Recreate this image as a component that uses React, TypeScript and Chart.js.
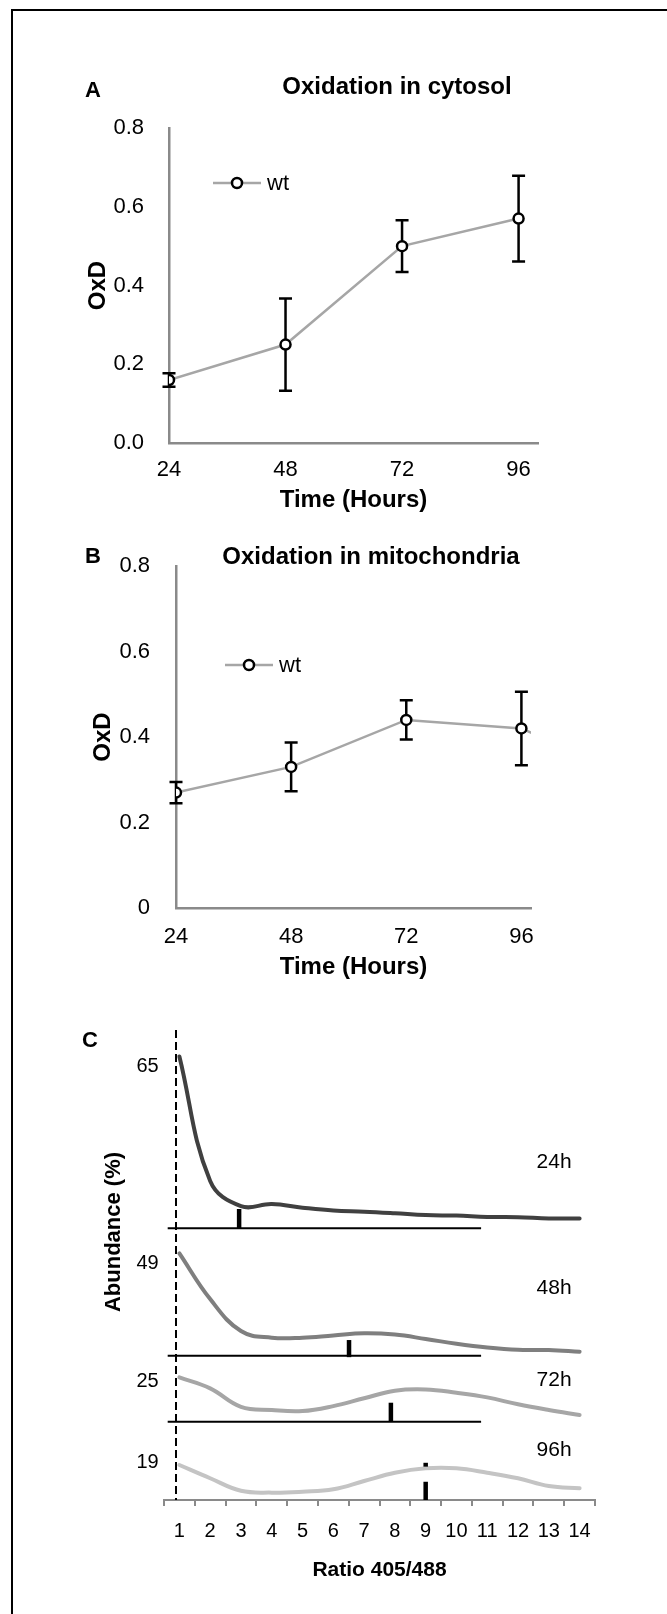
import React, { useEffect, useRef } from "react";
import { Chart, registerables } from "chart.js";

Chart.register(...registerables);

const FONT = '"Liberation Sans", Arial, Helvetica, sans-serif';
const AXIS_GREY = "#8a8a8a";
const LINE_GREY = "#a6a6a6";

// ---------- Panel A / B data ----------
const hours = [24, 48, 72, 96];
const hourTicks = [24, 48, 72, 96];
const oxdTicks = [0, 0.2, 0.4, 0.6, 0.8];

const cytosolOxD = [0.16, 0.25, 0.5, 0.57];
const cytosolErr = [0.017, 0.117, 0.066, 0.109];

const mitoOxD = [0.27, 0.33, 0.44, 0.42];
const mitoErr = [0.025, 0.057, 0.046, 0.086];
const mitoTailHour = 120;
const mitoTailOxD = 0.3;

// ---------- Panel C data ----------
const ratioBins = [1, 2, 3, 4, 5, 6, 7, 8, 9, 10, 11, 12, 13, 14];
const timeLabels = ["24h", "48h", "72h", "96h"];
const abundance24h = [65, 17.9, 8.4, 9.2, 7.8, 6.7, 6.3, 5.7, 5.0, 4.8, 4.3, 4.2, 3.7, 3.7];
const abundance48h = [49, 27.1, 11.8, 8.6, 8.6, 9.7, 10.7, 10.1, 8.0, 5.7, 3.9, 2.8, 2.7, 1.9];
const abundance72h = [25, 18.8, 8.4, 6.6, 6.0, 8.8, 13.2, 17.5, 18.2, 16.3, 13.7, 9.8, 6.6, 3.8];
const abundance96h = [19, 11.8, 5.0, 4.0, 4.5, 5.8, 10.3, 14.8, 17.2, 17.2, 14.8, 11.8, 7.6, 6.4];
const peakLabels = [65, 49, 25, 19];
const medianRatio = [2.94, 6.51, 7.87, 9.0];
const medianSegments = [
  [[0, 7.3]],
  [[-0.7, 7.5]],
  [[0, 10.7]],
  [[0, 9.9], [18.1, 20.2]],
];
const baselineRange = [0.62, 10.8];
const dashedRatio = 0.89;
const timeLabelRatio = 13.17;
const timeLabelHeights = [25, 32.4, 23.5, 27.1];

const curves = [abundance24h, abundance48h, abundance72h, abundance96h];
const curveColors = ["#404040", "#7f7f7f", "#a6a6a6", "#c4c4c4"];
const bandIds = ["y24", "y48", "y72", "y96"];
const bandMax = [75, 61, 37.2, 42.5];
const bandWeight = [198.3, 127.4, 66, 78.3];
const bandLabelOffset = [10.3, 10, 4.4, -2.7];

// ---------- plugins ----------
function errorBarPlugin(xs: number[], ys: number[], errs: number[]) {
  return {
    id: "errorBars",
    beforeDatasetsDraw(chart: any) {
      const { ctx } = chart;
      const sx = chart.scales.x;
      const sy = chart.scales.y;
      ctx.save();
      ctx.strokeStyle = "#000";
      ctx.lineWidth = 2.5;
      xs.forEach((h, i) => {
        const x = sx.getPixelForValue(h);
        const y1 = sy.getPixelForValue(ys[i] + errs[i]);
        const y2 = sy.getPixelForValue(ys[i] - errs[i]);
        ctx.beginPath();
        ctx.moveTo(x, y1);
        ctx.lineTo(x, y2);
        ctx.moveTo(x - 6.5, y1);
        ctx.lineTo(x + 6.5, y1);
        ctx.moveTo(x - 6.5, y2);
        ctx.lineTo(x + 6.5, y2);
        ctx.stroke();
      });
      ctx.restore();
    },
  };
}

function legendPlugin(dx: number, dy: number) {
  return {
    id: "wtLegend",
    afterDatasetsDraw(chart: any) {
      const { ctx, chartArea } = chart;
      const ds = chart.data.datasets[0];
      const cx = chartArea.left + dx;
      const cy = chartArea.top + dy;
      ctx.save();
      ctx.strokeStyle = ds.borderColor;
      ctx.lineWidth = ds.borderWidth;
      ctx.beginPath();
      ctx.moveTo(cx - 24, cy);
      ctx.lineTo(cx + 24, cy);
      ctx.stroke();
      ctx.beginPath();
      ctx.arc(cx, cy, 5, 0, Math.PI * 2);
      ctx.fillStyle = ds.pointBackgroundColor;
      ctx.fill();
      ctx.strokeStyle = ds.pointBorderColor;
      ctx.lineWidth = ds.pointBorderWidth;
      ctx.stroke();
      ctx.fillStyle = "#000";
      ctx.font = `22px ${FONT}`;
      ctx.textBaseline = "middle";
      ctx.textAlign = "left";
      ctx.fillText(ds.label, cx + 30, cy + 1);
      ctx.restore();
    },
  };
}

const panelCPlugin = {
  id: "panelC",
  beforeDatasetsDraw(chart: any) {
    const { ctx, chartArea } = chart;
    const x = chart.scales.x.getPixelForValue(dashedRatio);
    ctx.save();
    ctx.strokeStyle = "#000";
    ctx.lineWidth = 2;
    ctx.setLineDash([8, 4]);
    ctx.beginPath();
    ctx.moveTo(x, chartArea.top);
    ctx.lineTo(x, chartArea.bottom);
    ctx.stroke();
    ctx.restore();
  },
  afterDatasetsDraw(chart: any) {
    const { ctx } = chart;
    const x = chart.scales.x.getPixelForValue(timeLabelRatio);
    ctx.save();
    ctx.fillStyle = "#000";
    ctx.font = `21px ${FONT}`;
    ctx.textAlign = "center";
    ctx.textBaseline = "middle";
    bandIds.forEach((id, i) => {
      const y = chart.scales[id].getPixelForValue(timeLabelHeights[i]);
      ctx.fillText(timeLabels[i], x, y);
    });
    ctx.restore();
  },
};

// ---------- configs ----------
function oxdConfig(opts: any) {
  const data = opts.values.map((v: number, i: number) => ({ x: hours[i], y: v }));
  if (opts.tail) data.push({ x: opts.tail[0], y: opts.tail[1] });
  return {
    type: "line",
    data: {
      datasets: [
        {
          label: "wt",
          data,
          borderColor: LINE_GREY,
          borderWidth: 2.5,
          pointRadius: (ctx: any) => (ctx.dataIndex < hours.length ? 5 : 0),
          pointBackgroundColor: "#fff",
          pointBorderColor: "#000",
          pointBorderWidth: 2.5,
          tension: 0,
        },
      ],
    },
    options: {
      responsive: false,
      animation: false,
      devicePixelRatio: 1,
      layout: { padding: { left: 0, top: opts.top, right: opts.right, bottom: 0 } },
      plugins: { legend: { display: false }, tooltip: { enabled: false }, title: { display: false } },
      scales: {
        x: {
          type: "linear",
          min: 24,
          max: opts.xMax,
          afterBuildTicks: (s: any) => {
            s.ticks = hourTicks.map((v) => ({ value: v }));
          },
          afterFit: (s: any) => {
            s.height = opts.xHeight;
          },
          grid: { display: false },
          border: { display: true, color: AXIS_GREY, width: 2.5 },
          ticks: { color: "#000", font: { family: FONT, size: 22 }, padding: opts.xTickPad, maxRotation: 0 },
          title: {
            display: true,
            text: "Time (Hours)",
            color: "#000",
            font: { family: FONT, size: 24, weight: "bold" },
            padding: { top: 0, bottom: opts.xTitlePad },
          },
        },
        y: {
          type: "linear",
          min: 0,
          max: 0.8,
          afterBuildTicks: (s: any) => {
            s.ticks = oxdTicks.map((v) => ({ value: v }));
          },
          afterFit: (s: any) => {
            s.width = opts.yWidth;
          },
          grid: { display: false },
          border: { display: true, color: AXIS_GREY, width: 2.5 },
          ticks: {
            color: "#000",
            font: { family: FONT, size: 22 },
            padding: opts.yTickPad,
            callback: opts.tickFmt,
          },
          title: {
            display: true,
            text: "OxD",
            color: "#000",
            font: { family: FONT, size: 24, weight: "bold" },
            padding: { top: opts.yTitlePad, bottom: 0 },
          },
        },
      },
    },
    plugins: [errorBarPlugin(hours, opts.values, opts.errs), legendPlugin(opts.legend[0], opts.legend[1])],
  };
}

function makeA() {
  return oxdConfig({
    values: cytosolOxD,
    errs: cytosolErr,
    xMax: 100,
    top: 128,
    right: 129,
    xHeight: 77,
    xTickPad: 6,
    xTitlePad: 5.6,
    yWidth: 169,
    yTickPad: 17,
    yTitlePad: 83.6,
    tickFmt: (v: number) => Number(v).toFixed(1),
    legend: [68, 55],
  });
}

function makeB() {
  return oxdConfig({
    values: mitoOxD,
    errs: mitoErr,
    tail: [mitoTailHour, mitoTailOxD],
    xMax: 98,
    top: 46,
    right: 136,
    xHeight: 82,
    xTickPad: 7.5,
    xTitlePad: 8.6,
    yWidth: 176,
    yTickPad: 18,
    yTitlePad: 88.6,
    tickFmt: (v: number) => String(Number(v.toFixed(1))),
    legend: [73, 99],
  });
}

function bandScale(i: number) {
  return {
    type: "linear",
    position: "left",
    stack: "abundance",
    stackWeight: bandWeight[i],
    weight: 4 - i,
    min: 0,
    max: bandMax[i],
    afterBuildTicks: (s: any) => {
      s.ticks = [{ value: peakLabels[i] }];
    },
    afterFit: (s: any) => {
      s.width = 164;
    },
    grid: { display: false },
    border: { display: false },
    ticks: {
      color: "#000",
      font: { family: FONT, size: 20 },
      padding: -2.7,
      labelOffset: bandLabelOffset[i],
    },
  };
}

function makeC() {
  const datasets: any[] = [];
  medianRatio.forEach((r, i) => {
    medianSegments[i].forEach((seg) => {
      datasets.push({
        data: [
          { x: r, y: seg[0] },
          { x: r, y: seg[1] },
        ],
        yAxisID: bandIds[i],
        borderColor: "#000",
        borderWidth: 4.5,
        borderCapStyle: "butt",
        pointRadius: 0,
        clip: false,
      });
    });
  });
  for (let i = 0; i < 3; i++) {
    datasets.push({
      data: [
        { x: baselineRange[0], y: 0 },
        { x: baselineRange[1], y: 0 },
      ],
      yAxisID: bandIds[i],
      borderColor: "#000",
      borderWidth: 2,
      pointRadius: 0,
      clip: false,
    });
  }
  curves.forEach((c, i) => {
    datasets.push({
      label: timeLabels[i],
      data: c.map((v, j) => ({ x: ratioBins[j], y: v })),
      yAxisID: bandIds[i],
      borderColor: curveColors[i],
      borderWidth: 4,
      borderCapStyle: "round",
      borderJoinStyle: "round",
      pointRadius: 0,
      tension: 0.4,
      clip: false,
    });
  });
  const scales: any = {
    x: {
      type: "linear",
      min: 0.5,
      max: 14.5,
      afterBuildTicks: (s: any) => {
        s.ticks = ratioBins.map((v) => ({ value: v }));
      },
      afterFit: (s: any) => {
        s.height = 114;
      },
      grid: {
        display: true,
        drawOnChartArea: false,
        drawTicks: true,
        tickLength: 6,
        offset: true,
        color: AXIS_GREY,
        lineWidth: 2,
      },
      border: { display: true, color: AXIS_GREY, width: 2 },
      ticks: { color: "#000", font: { family: FONT, size: 20 }, padding: 13.7, maxRotation: 0, autoSkip: false },
      title: {
        display: true,
        text: "Ratio 405/488",
        color: "#000",
        font: { family: FONT, size: 21, weight: "bold" },
        padding: { top: 0, bottom: 31.4 },
      },
    },
  };
  bandIds.forEach((id, i) => {
    scales[id] = bandScale(i);
  });
  return {
    type: "line",
    data: { datasets },
    options: {
      responsive: false,
      animation: false,
      devicePixelRatio: 1,
      layout: { padding: { left: 0, top: 30, right: 72, bottom: 0 } },
      plugins: { legend: { display: false }, tooltip: { enabled: false } },
      scales,
    },
    plugins: [panelCPlugin],
  };
}

function ChartBox({ top, height, make }: { top: number; height: number; make: () => any }) {
  const ref = useRef<HTMLCanvasElement>(null);
  useEffect(() => {
    const chart = new Chart(ref.current as HTMLCanvasElement, make());
    return () => chart.destroy();
  }, []);
  return (
    <canvas
      ref={ref}
      width={667}
      height={height}
      style={{ position: "absolute", left: 0, top, width: 667, height }}
    />
  );
}

function Label({ x, y, text, size, bold, rotate }: any) {
  return (
    <div
      style={{
        position: "absolute",
        left: x,
        top: y,
        transform: `translate(-50%, -50%)${rotate ? " rotate(-90deg)" : ""}`,
        whiteSpace: "nowrap",
        fontSize: size,
        fontWeight: bold ? "bold" : "normal",
        lineHeight: 1,
        color: "#000",
        fontFamily: FONT,
      }}
    >
      {text}
    </div>
  );
}

export default function App() {
  return (
    <div
      style={{
        position: "absolute",
        left: 0,
        top: 0,
        width: 667,
        height: 1614,
        background: "#fff",
        overflow: "hidden",
      }}
    >
      <div
        style={{
          position: "absolute",
          left: 11,
          top: 9,
          width: 700,
          height: 1700,
          borderTop: "2px solid #000",
          borderLeft: "2px solid #000",
        }}
      />
      <ChartBox top={0} height={520} make={makeA} />
      <ChartBox top={520} height={470} make={makeB} />
      <ChartBox top={1000} height={614} make={makeC} />
      <Label x={93} y={90} size={22} bold text="A" />
      <Label x={397} y={86} size={24} bold text="Oxidation in cytosol" />
      <Label x={93} y={556} size={22} bold text="B" />
      <Label x={371} y={556} size={24} bold text="Oxidation in mitochondria" />
      <Label x={90} y={1040} size={22} bold text="C" />
      <Label x={113} y={1232} size={22} bold rotate text="Abundance (%)" />
    </div>
  );
}
